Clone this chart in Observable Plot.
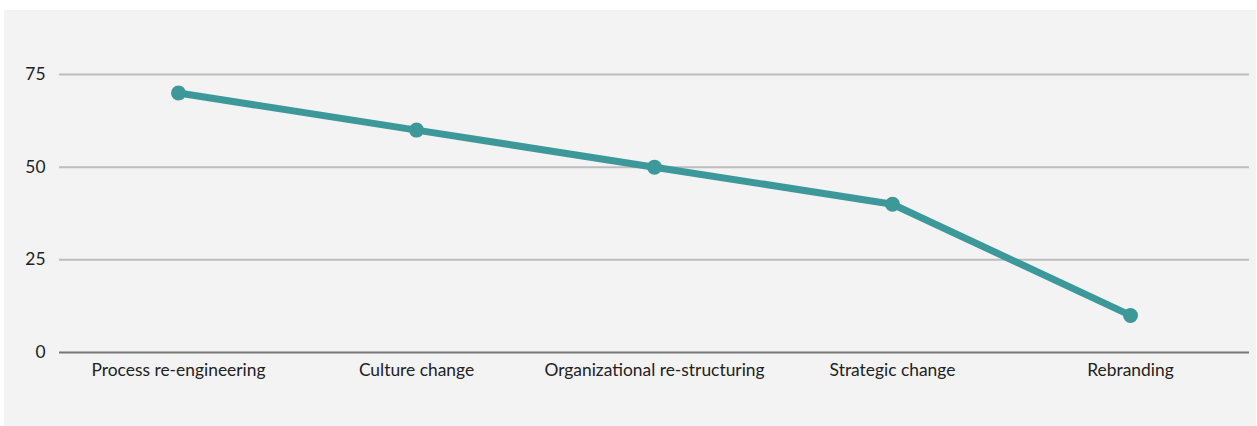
<!DOCTYPE html>
<html>
<head>
<meta charset="utf-8">
<script src="https://cdn.jsdelivr.net/npm/d3@7"></script>
<script src="https://cdn.jsdelivr.net/npm/@observablehq/plot@0.6"></script>
<style>
  html, body { margin: 0; padding: 0; background: #ffffff; }
  #panel { position: absolute; left: 4px; top: 10px; width: 1252px; height: 416px; background: #f3f3f3; }
  svg { display: block; }
</style>
</head>
<body>
<div id="panel"></div>
<script>
const categories = ["Process re-engineering", "Culture change", "Organizational re-structuring", "Strategic change", "Rebranding"];
const values = [70, 60, 50, 40, 10];
const yTicks = [0, 25, 50, 75];

const data = categories.map((c, i) => ({category: c, value: values[i]}));

const chart = Plot.plot({
  width: 1252,
  height: 416,
  marginLeft: 55,
  marginRight: 7,
  marginTop: 64,
  marginBottom: 74,
  style: {background: "transparent", fontFamily: "Lato, sans-serif", fontSize: "17.4px", color: "#222"},
  x: {type: "point", domain: categories, padding: 0.5, label: null, tickSize: 0, tickPadding: 11},
  y: {domain: [0, 75], ticks: yTicks, label: null, tickSize: 0, tickPadding: 14},
  marks: [
    Plot.ruleY(yTicks.filter(d => d !== 0), {stroke: "#bdbdbd", strokeWidth: 2}),
    Plot.ruleY([0], {stroke: "#777777", strokeWidth: 2}),
    Plot.line(data, {x: "category", y: "value", stroke: "#3d9999", strokeWidth: 7}),
    Plot.dot(data, {x: "category", y: "value", r: 7.5, fill: "#3d9999"})
  ]
});
document.getElementById("panel").appendChild(chart);
</script>
</body>
</html>
